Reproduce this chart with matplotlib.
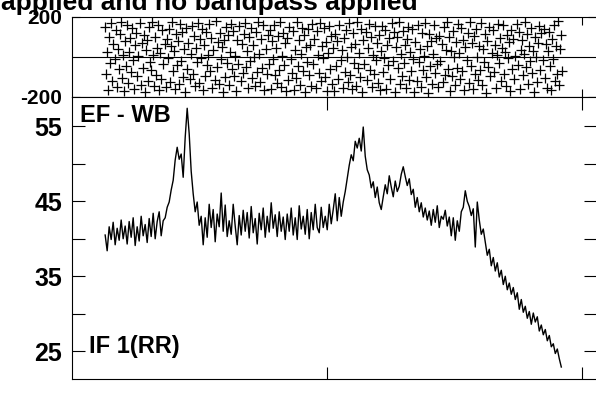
import numpy as np
import matplotlib
matplotlib.use("Agg")
import matplotlib.pyplot as plt

plt.rcParams['font.family'] = ['Liberation Sans', 'DejaVu Sans']
plt.rcParams['font.weight'] = 'bold'

# amplitude spectrum (one value every ~4 channels)
amp = [
    40.5, 38.4, 41.6, 39.9, 42.2, 39.2, 41.4, 39.8, 42.5, 40.0,
    41.7, 39.3, 42.3, 40.2, 42.8, 39.1, 41.6, 39.7, 43.0, 40.4,
    41.9, 39.5, 42.7, 40.3, 43.4, 40.0, 42.3, 43.6, 40.4, 42.4,
    42.8, 44.2, 44.9, 46.5, 47.8, 50.5, 52.2, 50.6, 51.3, 48.2,
    53.5, 57.4, 54.0, 49.0, 46.0, 43.6, 44.9, 41.8, 43.0, 39.2,
    42.8, 40.2, 44.6, 41.5, 43.9, 39.6, 43.3, 41.6, 46.1, 41.0,
    44.5, 40.3, 42.4, 40.6, 44.6, 41.7, 39.2, 43.1, 40.5, 43.8,
    41.0, 43.5, 40.1, 44.3, 40.8, 42.7, 39.3, 43.4, 41.2, 44.1,
    40.2, 43.0, 40.9, 44.8, 41.4, 43.2, 40.3, 43.6, 41.0, 42.9,
    39.9, 43.3, 41.0, 44.1, 40.5, 42.8, 39.9, 44.4, 41.3, 43.0,
    40.6, 43.9, 40.0, 43.5, 41.2, 44.6, 41.5, 40.8, 44.2, 41.5,
    43.0, 41.2, 44.6, 42.0, 43.9, 46.0, 42.4, 45.5, 43.0, 44.9,
    46.3, 48.1, 49.8, 51.2, 50.4, 53.0, 52.1, 53.4, 51.7, 54.9,
    51.0, 49.2, 48.5, 46.8, 47.6, 45.5, 46.9, 44.8, 43.9, 45.6,
    47.2, 46.0, 48.4, 46.9, 45.6, 47.7, 46.3, 47.0, 48.6, 49.6,
    48.3, 47.1, 48.0, 45.9, 46.6, 44.2, 45.5, 43.6, 44.8, 42.9,
    44.1, 42.5, 43.7, 41.8, 43.9, 42.2, 44.4, 41.5, 43.0, 42.6,
    43.8, 41.7, 42.9, 40.4, 42.8, 39.8, 42.4, 41.0, 43.6, 44.2,
    46.4, 45.0, 44.3, 43.1, 44.0, 38.9, 44.9, 42.5, 40.6, 41.3,
    39.5, 37.8, 38.6, 36.4, 37.5, 35.7, 36.8, 34.9, 35.8, 33.9,
    35.0, 33.2, 34.1, 32.6, 33.5, 31.9, 32.8, 30.6, 31.9, 30.2,
    31.0, 29.4, 30.3, 28.6, 30.1, 28.9, 29.6, 27.7, 28.5, 27.2,
    27.9, 26.4, 27.1, 25.6, 26.0, 24.7, 25.3, 24.0, 22.9,
]
amp_chan = np.linspace(65, 959, len(amp))

# phase (degrees)
phase = [
    152, -87, 23, -164, 98, -31, 171, -120, 64, -9, 135, -148, 41, -62, 117, 176, -103, 8, -171, 79,
    -45, 160, -132, 27, 93, -77, 144, -15, -158, 58, 122, -96, 3, 168, -139, 72, -53, 109, -175, 36,
    85, -118, 149, -24, -66, 174, 11, -143, 101, -88, 47, 158, -167, 19, -109, 133, -37, 66, -150, 92,
    -5, 139, -126, 54, 177, -71, 29, -161, 113, -42, 81, -136, 165, -18, 124, -99, 38, -173, 146, -58,
    70, -112, 15, 156, -83, 106, -147, 44, -27, 170, -129, 89, -4, 141, -165, 61, -93, 126, -40, 12,
    163, -70, 97, -155, 33, -116, 178, -50, 76, -134, 119, -11, 52, -176, 87, -102, 150, -29, 108, -141,
    24, 167, -61, 130, -95, 5, -169, 83, -36, 154, -121, 67, -80, 116, 172, -48, 31, -153, 99, -20,
    145, -107, 58, -1, -144, 127, -74, 173, 17, -125, 90, -55, 159, -166, 40, -86, 112, -33, 137, -159,
    78, -12, 161, -92, 46, -130, 103, -64, 175, -152, 7, 120, -39, 68, -172, 95, -117, 152, -8, -79,
    131, -163, 35, -104, 176, -46, 84, -138, 14, 147, -68, 110, -177, 51, -23, 138, -89, 62, -146, 166,
    -34, 91, -157, 128, 9, -82, 169, -119, 56, -3, 143, -100, 75, -168, 22, 157, -59, 104, -135, 45,
    -170, 115, -44, 80, -111, 162, -16, 37, -154, 96, -73, 134, 2, -127, 171, -90, 49, -160, 118, -28,
    65, -145, 177, -57, 20, -98, 140, -176, 86, -35, 125, -114, 43, 164, -67, 99, -149, 11, -85, 153,
    -14, 71, -131, 111, -166, 30, 155, -76, -7, 136, -162, 59, -41, 94, -108, 168, -22, 123, -175, 48,
    102, -53, 174, -137, 16, -94, 132, -30, 60, -156, 88, 151, -116, 26, -69, 142, -10, -173, 77, -120,
    159, -25, 42, -148, 121, -63, 7, 170, -101, 55, -178, 114, -47, 82, -133, 13, 160, -81, 93, -37,
    -151, 107, -19, 63, -123, 148, -88, 35, 175, -60, 100, -169, 28, -97, 129, -2, -141, 74, -54, 165,
    18, -110, 144, -72, 87, -164, 50, -13, 119, -128, 173, -43, 69, -158, 105, -84, 139, 1, -115, 57,
    -66, 172, -139, 39, -26, 117, -179, 81, -51, 150, -96, 21, 133, -75, 61, -153, 10, 163, -32, 97,
    -122, 46, 158, -86, 25, -144, 108, -6, 73, -170, 137, -58, 92, -112, 4, 167, -39, 126, -161, 34,
    85, -91, 15, 176, -49, 113, -134, 57, -21, 146, -78, 32, -174, 101, -1, -126, 71, 155, -64, 122,
    -17, 140, -103, 66, -157, 29, 124, -45, -167, 90, -9, 161, -118, 54, -83, 178, -140, 38, 109, -71,
]
phase_chan = np.linspace(65, 961, len(phase))

fig = plt.figure(figsize=(5.96, 3.97), dpi=100)
ax1 = fig.add_axes([0.1208, 0.7557, 0.8792, 0.2015])
ax2 = fig.add_axes([0.1208, 0.0453, 0.8792, 0.7103])

ax1.plot(phase_chan, phase, '+', color='black', ms=6.5, mew=0.9)
ax1.axhline(0, color='black', lw=0.8)
ax1.set_xlim(0, 1027)
ax1.set_ylim(-200, 200)
ax1.set_xticks([1000])
ax1.set_xticklabels([])
ax1.set_yticks([-200, 200])
ax1.set_yticklabels(['-200', '200'], fontsize=15, fontweight='bold')
ax1.tick_params(direction='in', length=6, width=0.8, top=True, right=True, pad=7)

ax2.plot(amp_chan, amp, color='black', lw=1.0)
ax2.set_xlim(0, 1027)
ax2.set_ylim(21.3, 58.9)
ax2.set_xticks([500, 1000])
ax2.set_xticklabels([])
ax2.set_yticks([25, 30, 35, 40, 45, 50, 55])
ax2.set_yticklabels(['25', '', '35', '', '45', '', '55'], fontsize=18, fontweight='bold')
ax2.tick_params(direction='in', length=9, width=0.8, top=True, right=True, pad=7)

for ax in (ax1, ax2):
    ax.spines['right'].set_visible(False)
    for s in ('left', 'top', 'bottom'):
        ax.spines[s].set_linewidth(0.8)

ax2.text(0.016, 0.975, 'EF - WB', transform=ax2.transAxes, ha='left', va='top',
         fontsize=17, fontweight='bold')
ax2.text(0.032, 0.075, 'IF 1(RR)', transform=ax2.transAxes, ha='left', va='bottom',
         fontsize=17, fontweight='bold')

fig.text(0.701, 0.975, 'applied and no bandpass applied', ha='right', va='baseline',
         fontsize=19, fontweight='bold')

fig.savefig('out.png', dpi=100)
